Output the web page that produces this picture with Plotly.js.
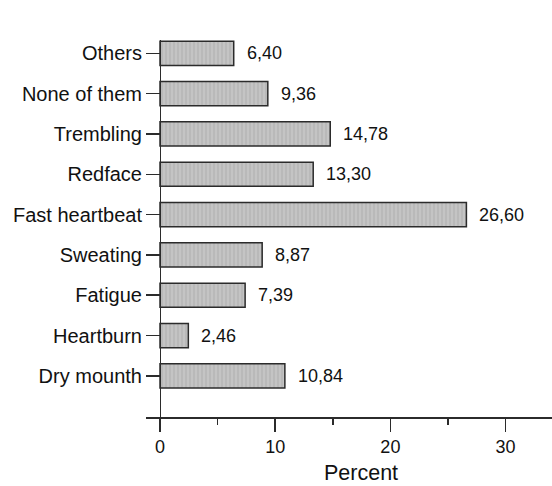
<!DOCTYPE html>
<html>
<head>
<meta charset="utf-8">
<script src="https://cdn.plot.ly/plotly-3.0.1.min.js"></script>
<style>html,body{margin:0;padding:0;background:#fff}#chart{width:552px;height:486px}</style>
</head>
<body>
<div id="chart"></div>
<script>
const categories = ["Dry mounth", "Heartburn", "Fatigue", "Sweating", "Fast heartbeat", "Redface", "Trembling", "None of them", "Others"];
const percents = [10.84, 2.46, 7.39, 8.87, 26.60, 13.30, 14.78, 9.36, 6.40];
const valueLabels = ["10,84", "2,46", "7,39", "8,87", "26,60", "13,30", "14,78", "9,36", "6,40"];
const xTickVals = [0, 10, 20, 30];
const xTickText = ["0", "10", "20", "30"];

const FONT = "Liberation Sans, Arial, sans-serif";
const xRange = [-1.215, 34.03];
const yAxisPos = (0 - xRange[0]) / (xRange[1] - xRange[0]);

const trace = {
  type: "bar",
  orientation: "h",
  y: categories,
  x: percents,
  width: 0.6,
  marker: {
    color: "#bdbdbd",
    line: {color: "#2b2b2b", width: 1.5},
    pattern: {shape: "|", fgcolor: "#e2e2e2", bgcolor: "#b9b9b9", size: 4, solidity: 0.25, fillmode: "overlay"}
  },
  hoverinfo: "skip"
};

const annotations = categories.map((c, i) => ({
  x: percents[i], y: c, xref: "x", yref: "y",
  text: valueLabels[i], showarrow: false, xanchor: "left", yanchor: "middle",
  xshift: 11, font: {family: FONT, size: 18, color: "#111"}
}));
annotations.push({
  xref: "paper", yref: "paper", x: 0.53, y: -0.182, xanchor: "center", yanchor: "bottom",
  text: "Percent", showarrow: false, borderpad: 0, font: {family: FONT, size: 21.5, color: "#111"}
});

const layout = {
  width: 552, height: 486,
  margin: {l: 146, r: 0, t: 40, b: 69},
  paper_bgcolor: "#fff", plot_bgcolor: "#fff",
  showlegend: false,
  font: {family: FONT, color: "#111"},
  xaxis: {
    range: xRange,
    tickvals: xTickVals, ticktext: xTickText,
    ticks: "outside", ticklen: 13, tickwidth: 1.5, tickcolor: "#2b2b2b",
    minor: {dtick: 5, tick0: 5, ticks: "outside", ticklen: 6, tickwidth: 1.5, tickcolor: "#2b2b2b", showgrid: false},
    showline: true, linecolor: "#2b2b2b", linewidth: 1.5,
    showgrid: false, zeroline: false,
    tickfont: {family: FONT, size: 18, color: "#111"},
    fixedrange: true
  },
  yaxis: {
    type: "category",
    categoryorder: "array", categoryarray: categories,
    range: [-1.02, 8.33],
    anchor: "free", position: yAxisPos,
    ticks: "outside", ticklen: 14, tickwidth: 1.5, tickcolor: "#2b2b2b",
    showline: true, linecolor: "#2b2b2b", linewidth: 1.5,
    showgrid: false, zeroline: false,
    tickfont: {family: FONT, size: 20, color: "#111"},
    fixedrange: true
  },
  annotations: annotations
};

Plotly.newPlot("chart", [trace], layout, {displayModeBar: false, staticPlot: true});
</script>
</body>
</html>
